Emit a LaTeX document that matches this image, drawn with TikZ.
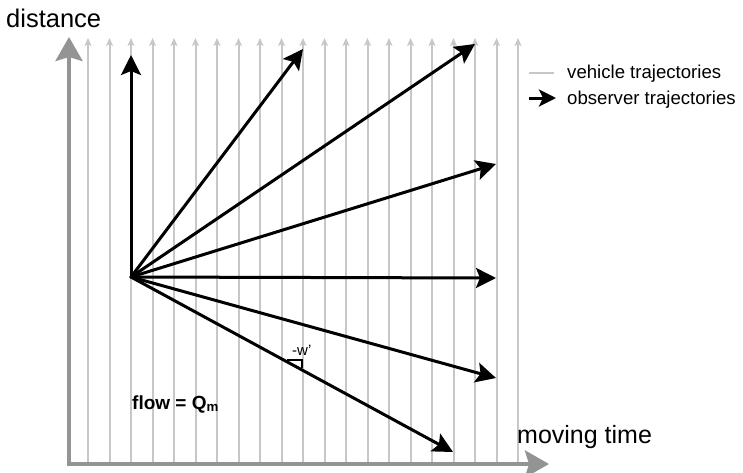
\documentclass[tikz,border=0pt]{standalone}
\usepackage{fontspec}
\setmainfont{Liberation Sans}
\usetikzlibrary{arrows.meta,calc}

\tikzset{
  vehicle/.style={draw=black!22, line width=2pt, -{Stealth[length=8pt,width=7pt,inset=2pt]}},
  axis/.style={draw=black!42, line width=4pt, -{Stealth[length=24pt,width=27pt,inset=4pt]}},
  observer/.style={draw=black, line width=3pt, -{Stealth[length=20pt,width=20pt,inset=4pt]}},
}

\begin{document}
\begin{tikzpicture}[x=1pt,y=-1pt]
        \useasboundingbox (0,0) rectangle (743,472);

        % Vehicle trajectories
        \foreach \i in {0,...,20}
          \draw[vehicle] (88+21.5*\i,463) -- (88+21.5*\i,38);

        % Axes
        \coordinate (O) at (69,464);
        \coordinate (ytop) at (69,37);
        \coordinate (xend) at (549,464);
        \draw[axis] ($(O)+(0,2)$) -- (ytop);
        \draw[axis] ($(O)+(-2,0)$) -- (xend);
        \node[anchor=base west, font=\fontsize{25.5}{30}\selectfont, inner sep=0pt] (ylab) at (6,27) {distance};
        \node[anchor=base west, font=\fontsize{25}{30}\selectfont, inner sep=0pt] (xlab) at (517,443) {moving time};

        % Observer trajectories
        \coordinate (S) at (131,277);
        \coordinate (T0) at (131,55);
        \coordinate (T1) at (303,49);
        \coordinate (T2) at (475,44);
        \coordinate (T3) at (496,164);
        \coordinate (T4) at (496,278);
        \coordinate (T5) at (496,378);
        \coordinate (T6) at (453,452);
        \foreach \t in {T0,T1,T2,T3,T4,T5,T6}
          \draw[observer, line cap=round] (S) -- (\t);

        % Slope mark
        \coordinate (w1) at ($(S)!0.4845!(T6)$);
        \coordinate (w2) at ($(S)!0.531!(T6)$);
        \draw[line width=1.6pt] ($(w1)+(0,-1.5)$) -- ($(w2|-w1)+(0,-1.5)$) -- ($(w2)+(0,-1.5)$);
        \node[anchor=base west, font=\fontsize{15}{18}\selectfont, inner sep=0pt] (wlab) at (292,355) {-w'};

        \node[anchor=base west, font=\bfseries\fontsize{19}{22}\selectfont, inner sep=0pt] (flow) at (132,409) {flow = Q\textsubscript{m}};

        % Legend
        \coordinate (l1a) at (529,73);
        \coordinate (l1b) at (554,73);
        \coordinate (l2a) at (529,98);
        \coordinate (l2b) at (556,98);
        \draw[draw=black!22, line width=1.5pt] (l1a) -- (l1b);
        \draw[black, line width=3pt, -{Stealth[length=17pt,width=17pt,inset=4pt]}] (l2a) -- (l2b);
        \node[anchor=base west, font=\fontsize{18.6}{22}\selectfont, inner sep=0pt] (leg1) at (567,78) {vehicle trajectories};
        \node[anchor=base west, font=\fontsize{18.6}{22}\selectfont, inner sep=0pt] (leg2) at (567,104) {observer trajectories};
    \end{tikzpicture}
\end{document}
